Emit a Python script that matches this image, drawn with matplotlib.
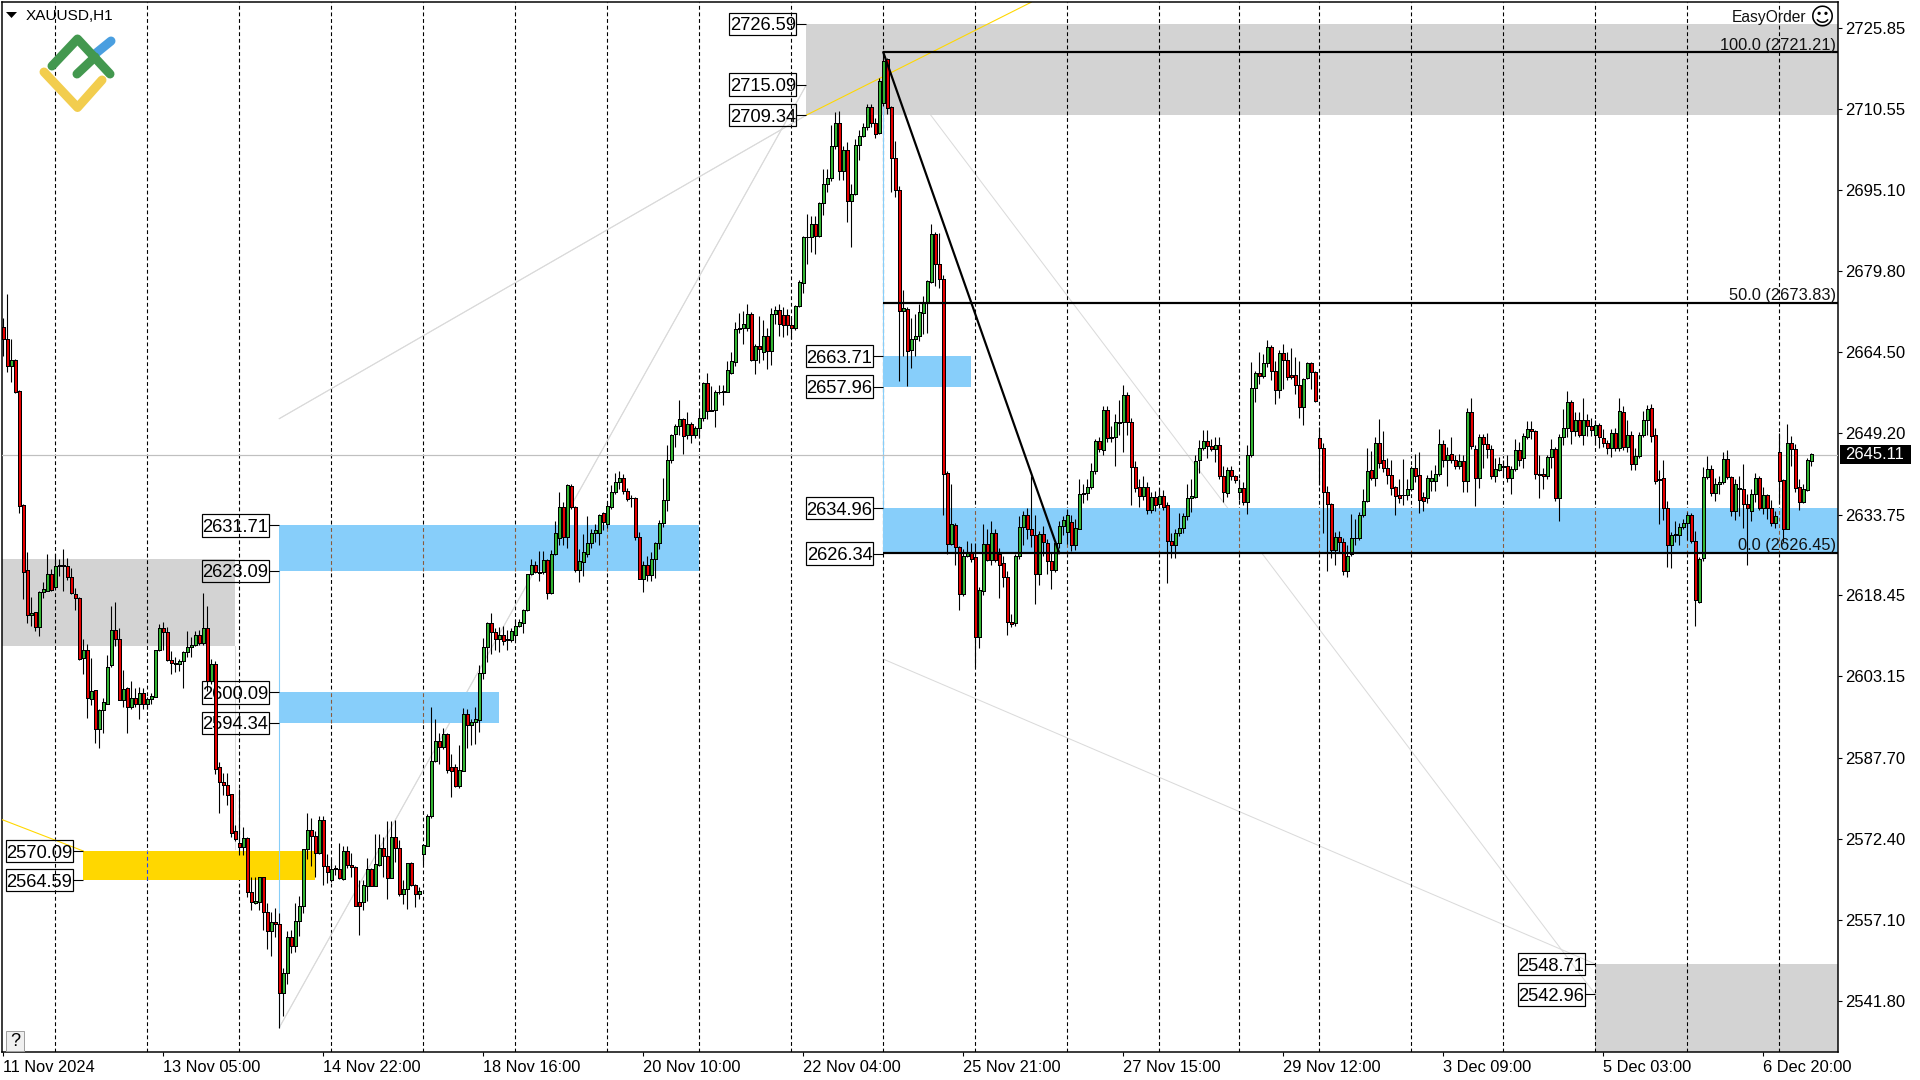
import matplotlib
matplotlib.use("Agg")
import matplotlib.pyplot as plt
from matplotlib.lines import Line2D
from matplotlib.patches import Rectangle, Polygon
from matplotlib.transforms import IdentityTransform

plt.rcParams['font.family'] = ['Liberation Sans', 'DejaVu Sans']

# every bar is (open, close, high, low)
bars_a = [
(2669.2,2667,2670.9,2663.7),(2667,2661.9,2675.4,2660.8),(2661.9,2663,2667,2658.8),(2663,2657,2663.2,2656.7),
(2657.2,2635.3,2657.3,2634.1),(2635.5,2622.8,2635.7,2617.8),(2623.2,2614.7,2626.6,2613.3),(2614.7,2615.1,2618.2,2612.7),
(2615.3,2612.4,2615.3,2611.7),(2612.4,2619.1,2619.2,2610.7),(2619.1,2619.6,2620.9,2618),(2619.2,2622.5,2626.3,2619.2),
(2622.5,2619.4,2623.5,2619.2),(2620,2624.1,2626.3,2619.9),(2624.1,2624.2,2625.3,2622.2),(2624.1,2624.2,2627.2,2619.2),
(2624.1,2622,2625.6,2621.3),(2622,2618.9,2623.7,2618.7),(2618.7,2617.9,2619.9,2615.6),(2618,2606.5,2618.2,2606.3),
(2606.7,2608.2,2610.2,2603.5),(2608.2,2599.1,2609.2,2595.2),(2598.9,2600.4,2606.6,2597.8),(2600.6,2593.1,2600.6,2590.6),
(2593.2,2596.8,2596.9,2589.6),(2596.8,2598.3,2599.1,2592.5),(2597.9,2605,2607.1,2597.9),(2605.2,2611.9,2616.5,2605),
(2611.9,2610.3,2617.3,2608.9),(2610.3,2598.7,2612.2,2598.6),(2598.7,2600.8,2604.3,2597.4),(2600.9,2597.3,2601.2,2592.4),
(2597.4,2599,2602.2,2597),(2599,2597.9,2600.9,2597.4),(2597.9,2599.9,2601.1,2595),(2599.9,2597.9,2601,2597),
(2597.9,2598.8,2599.3,2597),(2598.9,2599.4,2599.9,2597.9),(2599.3,2608.1,2608.2,2599.3),(2608.1,2612.2,2613,2608),
]
bars_b = [
(2612.2,2611.5,2613.5,2608.1),(2611.5,2606.3,2612.4,2606.1),(2606.3,2605.6,2607.9,2603.5),(2605.6,2605.4,2606.8,2604),
(2605.4,2606.1,2606.5,2604.2),(2606.1,2607.8,2608,2600.9),(2607.8,2608.7,2611.7,2606.8),(2608.6,2609,2610.6,2606.8),
(2609,2610.9,2611.7,2608.8),(2610.9,2609.5,2611.9,2609),(2609.5,2612.2,2618.9,2609),(2612.2,2602.2,2616.5,2600.3),
(2602.2,2605.5,2606.5,2601.6),(2605.5,2585.7,2606.1,2584.7),(2585.9,2583.1,2586.9,2577.3),(2583.1,2582.6,2584.9,2580.6),
(2582.6,2580.7,2584.9,2578.8),(2580.9,2573.5,2580.9,2572.8),(2573.8,2572.4,2575,2571.9),(2571.6,2570.9,2581.9,2569.4),
(2570.9,2572.6,2574.7,2569.4),(2572.6,2562.4,2572.8,2561.3),(2562.4,2560.5,2565.2,2558.9),(2560.3,2560.6,2565.2,2560),
(2560.5,2565.1,2565.2,2558.9),(2565.1,2558.5,2565.2,2555.2),(2558.5,2554.9,2560.3,2551.5),(2554.9,2556.7,2558.5,2550.2),
(2556.7,2556.2,2559.3,2553.8),(2556.2,2543.3,2558.4,2536.6),(2543.3,2547.1,2547.9,2538.9),(2547.1,2553.8,2554.9,2544.9),
(2553.8,2552.1,2555.1,2550.8),(2552.1,2556.9,2560.3,2551),(2556.9,2559.7,2561.6,2554.1),(2559.7,2570.5,2570.5,2558.4),
(2570.5,2574.1,2577.3,2568.5),(2574.1,2572.9,2576.4,2567.2),(2572.9,2569.7,2573.8,2565.2),(2569.7,2576,2576.7,2569.5),
]
bars_c = [
(2576,2567.2,2576.8,2563.7),(2567.2,2566.1,2569.5,2564.1),(2564.6,2566.7,2568.5,2564.2),(2566.7,2566.8,2567.5,2565.5),
(2566.7,2564.9,2571.6,2564.8),(2564.8,2570.1,2571.1,2564.6),(2570.1,2567.5,2571.1,2566.9),(2567.5,2567,2569.8,2565.2),
(2567,2559.7,2567.2,2559.6),(2560.5,2559.7,2564.6,2554.2),(2560.5,2563.7,2564.6,2559),(2563.5,2566.7,2568.8,2560.7),
(2566.7,2563.5,2566.8,2563.4),(2563.5,2567.7,2573.4,2563.4),(2567.5,2570.7,2573.3,2567.2),(2570.7,2569.2,2572.8,2565.2),
(2569.2,2564.9,2575.7,2561),(2564.9,2572.8,2575.7,2564.9),(2572.8,2570.6,2575.9,2568),(2570.6,2562,2572.2,2561.5),
(2562,2562.9,2564.6,2560),(2562.9,2567.8,2567.9,2559.2),(2567.8,2563.7,2568,2563.5),(2563.7,2562,2563.9,2559.5),
(2562,2562.6,2563.3,2561),(2569.5,2571.3,2571.5,2567.7),(2571.1,2576.8,2577,2571),(2576.7,2587.2,2597.3,2576.4),
(2587.2,2590.9,2595,2587),(2590.9,2589.8,2592.4,2586.5),(2589.8,2592.2,2593.3,2589.4),(2592.2,2585.5,2592.4,2584.9),
(2586,2585.3,2588.5,2580.3),(2586,2582.4,2586.5,2582.2),(2582.4,2585.5,2590.1,2582),(2585.3,2596,2597.1,2585.2),
(2596,2594,2597,2589.5),(2594,2594.5,2595.1,2590.1),(2594.5,2595,2597.3,2590.4),(2594.9,2603.8,2605.2,2592.7),
]
bars_d = [
(2603.8,2608.6,2610.4,2602.7),(2608.6,2613.3,2613.5,2605.8),(2613.3,2611.5,2615.2,2607.3),(2611.5,2610.2,2612.2,2608.2),
(2610.3,2611,2612.4,2607.8),(2611,2609.9,2612.6,2609.1),(2610.2,2610,2611.9,2608.1),(2610,2611.7,2612.2,2609.6),
(2610.9,2612.6,2614,2610),(2612.7,2613.5,2613.9,2612.4),(2613.3,2615.6,2615.9,2611.4),(2615.6,2622.5,2622.5,2615.5),
(2622.5,2624.3,2625.4,2622.3),(2624.3,2622.8,2625,2622.6),(2622.8,2622.7,2626.8,2621.2),(2622.8,2625.2,2626.8,2622.5),
(2625.2,2618.9,2625.4,2617.7),(2618.9,2626.3,2627.1,2618.7),(2626.3,2630.2,2632.6,2626.1),(2629.4,2635.2,2638.1,2628),
(2635.2,2629.6,2636.1,2628),(2629.6,2639.3,2639.5,2627.5),(2639.2,2635.2,2639.5,2634.8),(2635.2,2623.2,2635.4,2622.9),
(2623.2,2625,2627.3,2620.9),(2624.8,2626.6,2630.1,2622.2),(2626.3,2628.3,2633.5,2625.7),(2628.3,2630.2,2631,2627.5),
(2630.2,2630.8,2632,2628.5),(2630.2,2633.7,2633.9,2628),(2634.1,2632.4,2634.3,2630.8),(2631.9,2635.4,2636.2,2631.3),
(2635.2,2638,2639.4,2634.8),(2638,2639.9,2641.6,2637.7),(2639.9,2640.6,2642,2638.5),(2640.6,2638.2,2641.5,2637.7),
(2638.2,2636.7,2638.7,2636.3),(2636.8,2636.9,2637.4,2635.2),(2636.9,2629.5,2637.1,2628.9),(2629.5,2621.6,2630.5,2621.5),
]
bars_e = [
(2621.6,2624.3,2624.9,2619.1),(2624.3,2622.3,2626,2621.1),(2622.3,2625.4,2626.7,2621.1),(2625.4,2628.4,2628.6,2621.8),
(2628.4,2632.2,2632.8,2627.3),(2632.2,2636.5,2640.7,2631.4),(2636.5,2644,2646.9,2634.4),(2644,2648.9,2649,2643.5),
(2649,2650.6,2650.8,2646.6),(2650.6,2651.8,2655.4,2648.9),(2651.9,2648.7,2652.1,2645.3),(2648.9,2650.8,2653.1,2648),
(2650.8,2648.9,2651.3,2647.2),(2648.9,2650.2,2650.5,2648.2),(2650.2,2652.1,2653.4,2648.4),(2652.1,2658.6,2658.8,2651.5),
(2658.6,2653.4,2660.5,2651.8),(2653.6,2653.4,2658,2653.3),(2653.6,2656.9,2657.3,2650.4),(2657,2657,2658.2,2656.5),
(2657,2657.1,2658.3,2654.5),(2657,2661.1,2662.9,2657),(2660.6,2662.9,2664.5,2660.3),(2662.7,2668.9,2670.2,2661.9),
(2668.9,2669,2671.9,2668.2),(2669,2669.9,2672.2,2666),(2669,2671.7,2673.6,2668.5),(2671.7,2663,2672,2662.9),
(2663,2665.7,2666,2660.4),(2665.7,2665,2671.4,2662.5),(2664.5,2667.6,2670.5,2663),(2667.6,2664.7,2669,2661.3),
(2664.7,2671.7,2672.8,2662.1),(2671.7,2672.5,2673.2,2669.9),(2672.5,2669.8,2673.5,2667.5),(2671.5,2669.6,2673.1,2667.4),
(2671.5,2669.6,2672.6,2667.8),(2669.6,2669,2671,2667),(2669,2673.2,2673.4,2668.7),(2673.2,2677.7,2678.2,2673),
]
bars_f = [
(2677.6,2686.2,2686.4,2675.7),(2686.2,2686.2,2690.6,2681.1),(2686.2,2688.8,2690.3,2683.5),(2688.8,2686.5,2690.2,2683),
(2686.5,2692.7,2692.9,2686.2),(2692.7,2696.3,2699.1,2690.5),(2696.3,2697.4,2699.2,2694.7),(2697.4,2703.5,2707.4,2696.9),
(2703.5,2707.9,2709.9,2702.9),(2707.9,2698.8,2710.2,2697),(2698.8,2702.8,2703.5,2697),(2702.7,2693,2704.2,2689.2),
(2693,2694.5,2696.3,2684.3),(2694.5,2703.7,2704.8,2694.3),(2703.7,2705.3,2706.6,2700.8),(2705.3,2707,2707.8,2705.2),
(2707,2710.9,2711.4,2706.5),(2710.9,2707.9,2711.4,2707),(2707.9,2705.8,2708.7,2705),(2705.9,2715.8,2716.4,2705.8),
(2711.6,2719.6,2721.2,2711),(2720,2710.7,2720.2,2709.5),(2710.9,2701.2,2711,2694.7),(2701.2,2695.1,2704.4,2693.9),
(2695.1,2672.2,2695.9,2659.1),(2672.2,2672.8,2676.3,2663.8),(2672.7,2664.7,2673,2658.1),(2664.8,2667,2671,2661.5),
(2667,2667.6,2671.7,2663.7),(2667.6,2672,2673.6,2666.5),(2671.9,2673.8,2675.2,2668),(2674,2677.9,2678.2,2668.1),
(2677.7,2686.9,2688.8,2677.5),(2686.9,2681.1,2687.2,2677),(2681.1,2678.4,2687,2676.6),(2678.4,2641.5,2679,2633.6),
(2641.7,2628.2,2642,2626.2),(2628.2,2632,2639.6,2628),(2631.8,2627.7,2632.1,2624.2),(2627.7,2618.7,2627.8,2615.7),
]
bars_g = [
(2618.7,2625.9,2627.2,2618.3),(2625.9,2626.4,2628.8,2625.7),(2626.4,2625.4,2628.4,2624.7),(2625.8,2610.5,2628.4,2605),
(2610.5,2619.4,2620,2608.5),(2619.3,2628.2,2632,2618.5),(2628.2,2625.1,2631,2624.9),(2625.1,2630.2,2632.5,2624.3),
(2630.2,2625.1,2631,2624.8),(2626.3,2624.3,2627.5,2618),(2624.5,2622,2626,2620),(2622,2613.4,2623,2610.9),
(2613.4,2613.1,2615,2612.4),(2613.3,2625.9,2626.3,2612.6),(2625.9,2631.4,2633.4,2625.3),(2631.4,2633.6,2634.5,2628),
(2633.6,2631,2634.9,2629.2),(2631,2629.9,2641,2627.6),(2629.9,2622.5,2633.6,2616.8),(2622.5,2630,2630.6,2620.5),
(2630,2628.6,2631.6,2626),(2628.4,2625,2629.1,2622.5),(2625,2623.2,2626.5,2619.6),(2623.2,2628.3,2628.7,2622.8),
(2628.3,2631.6,2632.5,2627.5),(2631.6,2632.8,2633.5,2629.9),(2630.5,2633.6,2634.8,2628.2),(2632.4,2627.9,2633.6,2626.8),
(2627.9,2631.3,2632.9,2627),(2631.1,2637.6,2640.5,2631),(2637.6,2637.8,2639.6,2635.9),(2637.8,2638.9,2640.4,2636.5),
(2638.9,2642,2643.5,2638.5),(2641.9,2647.7,2648.1,2641.5),(2647.7,2646.1,2648.4,2645.5),(2646,2653.6,2654.2,2645.1),
(2653.6,2648.2,2654.2,2647.4),(2648.5,2648.2,2650.5,2647.5),(2648.4,2651.2,2652.8,2643),(2651.1,2651.2,2655.4,2648.9),
]
bars_h = [
(2651.2,2656.4,2658.2,2645.6),(2656.4,2651.2,2657,2648.8),(2651.2,2642.7,2652.1,2635.6),(2642.7,2638.8,2643.9,2638),
(2638.9,2637.2,2640.5,2635.2),(2637.2,2638.9,2641,2636.5),(2638.9,2634.7,2640,2633.8),(2634.7,2637,2638,2634),
(2637,2635.5,2638.2,2634.5),(2635.7,2637.2,2638.5,2635),(2637.2,2635.2,2638.4,2634.6),(2635.5,2628.7,2636.2,2620.8),
(2628.7,2628,2630.2,2625.6),(2628,2630.2,2631,2625.6),(2630.2,2631.2,2634,2629.7),(2631.2,2633.5,2634,2630.3),
(2633.5,2636.8,2639.6,2632.8),(2636.8,2637.2,2640.5,2634.3),(2637,2643.9,2645,2636.8),(2644,2646.3,2647.8,2641.7),
(2646.3,2647.6,2649.7,2646),(2647.6,2646.7,2649.7,2644.5),(2646.7,2646.1,2648,2645.8),(2646.1,2647,2648.4,2643.7),
(2647,2641.1,2648.4,2640.4),(2641.1,2638.1,2643,2636.2),(2637.8,2642.2,2642.8,2637),(2642.2,2641.1,2643,2640.3),
(2641,2640.2,2641.2,2639.7),(2638.1,2638.8,2640.4,2636.5),(2638.8,2636.2,2640,2635.6),(2636.2,2645,2647,2633.8),
(2645,2657.7,2662.7,2644.7),(2657.7,2660.6,2661,2655.1),(2660.6,2660,2664.5,2658.4),(2660,2662.5,2664.2,2659.6),
(2662.5,2665.5,2666.8,2661.7),(2665.5,2660.9,2665.8,2659.2),(2660.9,2657.3,2662.8,2654.6),(2657.3,2664.4,2664.9,2655.9),
]
bars_i = [
(2664.4,2663,2666.1,2657.6),(2663,2659.7,2664.5,2659.2),(2660.1,2659.7,2665.3,2659.4),(2660.1,2658.2,2663.6,2656.5),
(2658.2,2654.1,2662.8,2652.1),(2654.1,2659.4,2659.5,2650.7),(2659.6,2662.5,2662.6,2659.4),(2662.5,2660.8,2662.6,2657.6),
(2660.8,2655.2,2661,2655),(2648.3,2646.3,2650.4,2639.4),(2646.3,2638,2647.3,2630.3),(2638,2635.8,2639.2,2623),
(2635.8,2627.1,2636,2625.6),(2627.1,2629.6,2630.5,2624.2),(2629.6,2628.6,2630.7,2626.4),(2628.6,2623.1,2629.3,2622.3),
(2623.1,2626,2627.9,2622),(2626.2,2629.3,2633.8,2626),(2629.3,2629.4,2633,2628),(2629.4,2633.7,2634.2,2629),
(2633.7,2636.3,2638.5,2633.3),(2636.4,2641.9,2646.4,2636.2),(2642.2,2640.7,2645.7,2640.2),(2640.7,2647.2,2648.5,2639.2),
(2647.2,2643.6,2651.9,2642.5),(2644,2642.5,2649.5,2641.8),(2642.5,2641.3,2644.5,2639.5),(2641.3,2638.8,2644,2637.4),
(2638.9,2637.3,2639.2,2633.7),(2637.5,2636.9,2640.5,2636),(2637.5,2637.5,2644.3,2635.5),(2637.5,2638.6,2640.4,2636.5),
(2638.6,2642.5,2643,2638.4),(2642.5,2641,2645.3,2639.9),(2641.2,2636.5,2645.5,2634.1),(2637.1,2636.3,2638,2634.5),
(2636.8,2640.6,2641.2,2636),(2640.1,2640.7,2642.1,2638.2),(2640.1,2641.5,2643.2,2638.2),(2641.5,2647.1,2650,2641.1),
]
bars_j = [
(2647.1,2644.1,2647.8,2642.8),(2644.1,2645.1,2646.6,2639.2),(2645.2,2644.1,2648.4,2643.5),(2644.1,2643,2645.1,2642.3),
(2643,2643.8,2645.2,2642.4),(2643.8,2640.1,2645,2638),(2640.1,2653.1,2654,2638),(2653.1,2646.8,2655.8,2646.2),
(2646.1,2640.6,2647,2635.4),(2640.6,2648.5,2649,2638.8),(2648.5,2647.1,2649,2642.5),(2647.1,2646.1,2649.2,2644.5),
(2646.1,2641,2647,2640.5),(2641,2642.3,2644.5,2640),(2642.2,2643.4,2644.6,2642),(2642.8,2642.9,2644,2641),
(2642.9,2640.6,2645,2639.9),(2640.6,2642.3,2643,2637.7),(2642.3,2646,2648.1,2642),(2646,2644.1,2647.5,2643),
(2644.5,2648.7,2649.2,2642.5),(2648.4,2649.9,2651.5,2648),(2649.9,2649.5,2651.5,2648),(2649.5,2641.5,2649.7,2640.5),
(2641.3,2641.4,2645,2636.8),(2641.4,2641,2642.5,2638.5),(2641,2644.6,2645,2640.5),(2644.6,2646.2,2648,2642.5),
(2646.2,2636.8,2646.5,2636.3),(2636.8,2648.5,2649,2632.6),(2648.5,2650.2,2653.8,2647),(2650.2,2655,2657.1,2648.5),
(2655,2649.5,2655.5,2647.1),(2649.5,2651.6,2653.1,2648.7),(2651.6,2648.8,2653.2,2648.5),(2648.8,2651.7,2655.8,2647),
(2651.7,2650.5,2652.8,2648.6),(2650.5,2649.8,2652,2648.7),(2648.8,2650.7,2651.6,2647),(2650.7,2648.4,2651,2646.4),
]
bars_k = [
(2648.2,2647.2,2650,2646.5),(2647.2,2646.4,2647.8,2645.2),(2646.4,2649.2,2650,2644.6),(2649.2,2646.4,2650.2,2645.8),
(2646.4,2653.3,2655.8,2645.8),(2653.1,2646.6,2654.2,2646),(2646.6,2648.9,2651.7,2645.5),(2648.9,2643.4,2649.5,2642.1),
(2643.4,2644.8,2646.3,2642.1),(2644.8,2648.9,2649.3,2644.4),(2648.9,2651.7,2653.4,2648.4),(2651.7,2653.7,2654.4,2648.9),
(2653.9,2648.7,2654.6,2647.5),(2648.9,2640.1,2650.2,2639.5),(2640.4,2640.2,2642.2,2632),(2640.6,2635,2644,2632.7),
(2635,2628,2636.3,2623.8),(2628,2629.9,2630.4,2623.6),(2629.9,2630,2632.6,2628.5),(2629.9,2631.4,2632.2,2628),
(2631.4,2632.1,2632.9,2631),(2632.1,2633.7,2634.3,2629),(2633.7,2628.8,2634,2628.3),(2628.8,2617.5,2630.7,2612.7),
(2617.3,2625.4,2625.8,2617),(2625.6,2640.9,2642.7,2625),(2640.9,2642.3,2644.8,2640.5),(2642.3,2637.8,2643.2,2637.3),
(2637.8,2639.5,2640.7,2636.4),(2639.5,2639.9,2641.1,2637.7),(2639.9,2644.3,2645.5,2639.5),(2644.3,2640.9,2645.9,2640.5),
(2640.9,2634.4,2641.1,2633.4),(2634.4,2639.5,2640.5,2632.7),(2638.6,2638.7,2641,2633.5),(2638.6,2635.8,2643.4,2631.2),
(2635.8,2635,2637.7,2624.2),(2634.5,2637.7,2638.5,2632.5),(2637.7,2640.6,2641.7,2636.2),(2640.6,2635,2641.1,2634.6),
]
bars_l = [
(2635,2637.5,2639,2633.8),(2637.5,2635,2637.7,2632.9),(2635,2632.1,2636.5,2631.6),(2632.1,2633.4,2634.5,2631.2),
(2645.6,2640.1,2649.1,2636),(2640.2,2631.1,2640.4,2628.5),(2631.1,2647.2,2650.8,2631),(2647.2,2646.2,2648.6,2643),
(2646.2,2638.8,2647.1,2638),(2638.9,2636.2,2640.5,2634.6),(2636.2,2638.6,2639.5,2636),(2638.4,2644,2644.5,2638.2),
(2643.8,2645.3,2645.4,2642.9),
]
all_bars = bars_a + bars_b + bars_c + bars_d + bars_e + bars_f + bars_g + bars_h + bars_i + bars_j + bars_k + bars_l
opens = [b[0] for b in all_bars]
closes = [b[1] for b in all_bars]
highs = [b[2] for b in all_bars]
lows = [b[3] for b in all_bars]

y_ticks = [2725.85, 2710.55, 2695.10, 2679.80, 2664.50, 2649.20, 2633.75, 2618.45, 2603.15, 2587.70, 2572.40, 2557.10, 2541.80]
x_tick_bars = [0, 40, 80, 120, 160, 200, 240, 280, 320, 360, 400, 440]
x_tick_labels = ['11 Nov 2024', '13 Nov 05:00', '14 Nov 22:00', '18 Nov 16:00', '20 Nov 10:00', '22 Nov 04:00',
                 '25 Nov 21:00', '27 Nov 15:00', '29 Nov 12:00', '3 Dec 09:00', '5 Dec 03:00', '6 Dec 20:00']
separators = [13, 36, 59, 82, 105, 128, 151, 174, 197, 220, 243, 266, 289, 309, 329, 352, 375, 398, 421, 444]
last_price = 2645.11
fib_levels = [(2721.21, '100.0 (2721.21)'), (2673.83, '50.0 (2673.83)'), (2626.45, '0.0 (2626.45)')]
# (start bar, end bar or None, top, bottom)
gray_zones = [(200.8, None, 2726.59, 2709.34), (-1, 58, 2625.3, 2608.8), (398, None, 2548.71, None)]
blue_zones = [(69, 174, 2631.71, 2623.09), (69, 124, 2600.09, 2594.34), (220, 242, 2663.71, 2657.96), (220, None, 2634.96, 2626.34)]
gold_zone = (20, 78, 2570.09, 2564.59)
price_tags = [(69, 2631.71), (69, 2623.09), (69, 2600.09), (69, 2594.34), (20, 2570.09), (20, 2564.59),
              (200.8, 2726.59), (200.8, 2715.09), (200.8, 2709.34), (220, 2663.71), (220, 2657.96),
              (220, 2634.96), (220, 2626.34), (398, 2548.71), (398, 2542.96)]
faint_lines = [((69, 2651.9), (200.8, 2709.34)), ((69, 2536.7), (200.8, 2715.09)),
               ((220, 2721.21), (398, 2542.96)), ((220, 2606.4), (398, 2548.71))]
gold_lines = [((200.8, 2709.34), (257, 2730.7)), ((-0.2, 2576.0), (20, 2570.09))]

W, H = 1920, 1080
DPI = 100
PX = 72.0 / DPI
L_PX, R_PX, T_PX, B_PX = 2.4, 1838.0, 2.4, 1052.0
fig = plt.figure(figsize=(W / DPI, H / DPI), dpi=DPI, facecolor='white')
ax = fig.add_axes([L_PX / W, 1 - B_PX / H, (R_PX - L_PX) / W, (B_PX - T_PX) / H])
x_min, x_max = (L_PX - 3.3) / 4.0, (R_PX - 3.3) / 4.0
y_top, y_bot = 2730.66, 2532.06
ax.set_xlim(x_min, x_max)
ax.set_ylim(y_bot, y_top)
BAR_PX = 4.0
PRICE_PX = (B_PX - T_PX) / (y_top - y_bot)
for s in ax.spines.values():
    s.set_linewidth(1.5 * PX)
    s.set_color('black')
ax.spines['top'].set_zorder(10)

SEP_DASH = (0, (3.5, 2.5))
ax.vlines(separators, y_bot, y_top, colors='black', lw=1.1 * PX, linestyles=[SEP_DASH], zorder=2)

GRAY, BLUE, GOLD, FAINT = '#d3d3d3', '#87cefa', '#ffd700', '#dadada'
for (a, b), (c, d) in faint_lines:
    ax.plot([a, c], [b, d], color=FAINT, lw=1.0 * PX, zorder=0.5)
ax.plot([58, 58], [2608.8, 2570.5], color=FAINT, lw=1.0 * PX, zorder=0.5)
for x0, x1, top, bot in gray_zones:
    x1 = x_max if x1 is None else x1
    bot = y_bot if bot is None else bot
    x0 = max(x0, x_min)
    ax.add_patch(Rectangle((x0, bot), x1 - x0, top - bot, color=GRAY, lw=0, zorder=1))
for (a, b), (c, d) in faint_lines[:2]:
    ax.plot([a, c], [b, d], color=FAINT, lw=1.0 * PX, zorder=2.2)
for x0, x1, top, bot in blue_zones:
    x1 = x_max if x1 is None else x1
    ax.add_patch(Rectangle((x0, bot), x1 - x0, top - bot, color=BLUE, lw=0, zorder=2.5))
    seps = [s for s in separators if x0 < s < x1]
    if seps:
        ax.vlines(seps, bot, top, colors='#8a5a3c', lw=1.1 * PX, linestyles=[SEP_DASH], zorder=2.6)
x0, x1, top, bot = gold_zone
ax.add_patch(Rectangle((x0, bot), x1 - x0, top - bot, color=GOLD, lw=0, zorder=2.5))
ax.vlines([36], bot, top, colors='#2040ff', lw=1.1 * PX, linestyles=[SEP_DASH], zorder=2.6)

for (a, b), (c, d) in gold_lines:
    ax.plot([a, c], [b, d], color=GOLD, lw=1.1 * PX, zorder=2.7)
ax.plot([69, 69], [2623.09, 2536.7], color=BLUE, lw=1.1 * PX, zorder=2.7)
ax.plot([220, 220], [2721.21, 2626.45], color=BLUE, lw=1.1 * PX, zorder=2.7)

ax.axhline(last_price, color='#c0c0c0', lw=1.2 * PX, zorder=2.8)

# price tags: unfilled box, short stem to the zone
GAP_PX, BOX_W_PX, BOX_H_PX = 10.0, 67.5, 22.5
for x, p in price_tags:
    right = x - GAP_PX / BAR_PX
    left = right - BOX_W_PX / BAR_PX
    half = BOX_H_PX / 2 / PRICE_PX
    ax.plot([right, x], [p, p], color='black', lw=1.1 * PX, zorder=3, solid_capstyle='butt')
    ax.add_patch(Rectangle((left, p - half), right - left, 2 * half, fc='none', ec='black', lw=1.2 * PX, zorder=3))
    ax.text((left + right) / 2, p, f'{p:.2f}', ha='center', va='center_baseline', fontsize=18.4 * PX,
            color='black', zorder=3)

# candles
xs = list(range(len(opens)))
ax.vlines(xs, lows, highs, colors='black', lw=1.1 * PX, zorder=5)
ups = [i for i in xs if closes[i] >= opens[i]]
downs = [i for i in xs if closes[i] < opens[i]]
ax.bar(ups, [closes[i] - opens[i] for i in ups], bottom=[opens[i] for i in ups], width=0.72,
       color='#32b432', edgecolor='black', linewidth=1.0 * PX, zorder=6, antialiased=False)
ax.bar(downs, [opens[i] - closes[i] for i in downs], bottom=[closes[i] for i in downs], width=0.72,
       color='#e60000', edgecolor='black', linewidth=1.0 * PX, zorder=6, antialiased=False)

# fibonacci levels and swing line
for p, label in fib_levels:
    ax.plot([220, x_max], [p, p], color='black', lw=2.2 * PX, zorder=7, solid_capstyle='butt')
    ax.annotate(label, xy=(x_max, p), xytext=(-2 * PX, -0.3 * PX), textcoords='offset points',
                ha='right', va='bottom', fontsize=16.4 * PX, color='#111111', zorder=8)
ax.plot([220, 264], [fib_levels[0][0], fib_levels[2][0]], color='black', lw=2.2 * PX, zorder=7)

# axes ticks
ax.yaxis.tick_right()
ax.set_yticks(y_ticks)
ax.set_yticklabels([f'{v:.2f}' for v in y_ticks], fontsize=16.6 * PX, color='black')
ax.tick_params(axis='y', length=4 * PX, width=1.1 * PX, pad=3.5 * PX)
ax.set_xticks(x_tick_bars)
ax.set_xticklabels(x_tick_labels, fontsize=16.4 * PX, color='black', ha='left')
ax.tick_params(axis='x', length=4 * PX, width=1.1 * PX, pad=3.5 * PX)

# texts and furniture in pixel positions
def px(x, y):
    return x / W, 1 - y / H

fig.text(*px(26, 15.5), 'XAUUSD,H1', fontsize=15.4 * PX, va='center', ha='left', color='black')
fig.text(*px(1806, 17.5), 'EasyOrder', fontsize=15.6 * PX, va='center', ha='right', color='#111111', zorder=20)
fig.text(*px(1823, 18), '\u263A', fontsize=24 * PX, va='center', ha='center', color='black', family='DejaVu Sans', zorder=20)

id_t = IdentityTransform()
def flip(points):
    return [(x, H - y) for x, y in points]
fig.add_artist(Polygon(flip([(6, 12), (17, 12), (11.5, 18)]), closed=True, fc='black', ec='black', lw=0, transform=id_t))
for pts, col in [([(95, 54), (111, 41)], '#4a9fe0'),
                 ([(52, 66), (77.5, 39), (110, 74)], '#43984f'),
                 ([(77, 74), (95, 57)], '#43984f'),
                 ([(44, 72), (77.5, 107.5), (102, 80)], '#f2cd4e')]:
    p = flip(pts)
    fig.add_artist(Line2D([q[0] for q in p], [q[1] for q in p], color=col, lw=9 * PX,
                          solid_capstyle='round', solid_joinstyle='round', transform=id_t, zorder=15))

fig.add_artist(Rectangle((6, H - 1051), 18, 20, fc='#f0f0f0', ec='#a0a0a0', lw=1 * PX, transform=id_t, zorder=15))
fig.text(*px(15, 1041), '?', fontsize=18 * PX, ha='center', va='center', color='black', zorder=16)

y_last = T_PX + (y_top - last_price) / (y_top - y_bot) * (B_PX - T_PX)
fig.add_artist(Rectangle((1840, H - y_last - 9.5), 71, 19, fc='black', ec='black', lw=0, transform=id_t, zorder=15))
fig.text(*px(1845.5, y_last), f'{last_price:.2f}', fontsize=16.6 * PX, ha='left', va='center', color='white', zorder=16)

fig.savefig('out.png', dpi=DPI, facecolor='white')
